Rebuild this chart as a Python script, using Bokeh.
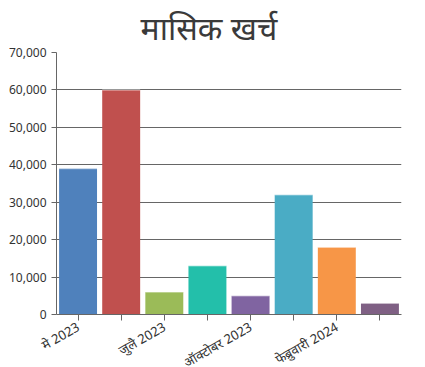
from bokeh.plotting import figure
from bokeh.models import FixedTicker, NumeralTickFormatter, FactorRange, Range1d, CustomJSTickFormatter
from bokeh.embed import file_html
from bokeh.resources import INLINE

title_text = "मासिक खर्च"
months = ["मे 2023", "जून 2023", "जुलै 2023", "सप्टेंबर 2023", "ऑक्टोबर 2023",
          "डिसेंबर 2023", "फेब्रुवारी 2024", "मार्च 2024"]
shown_labels = ["मे 2023", "जुलै 2023", "ऑक्टोबर 2023", "फेब्रुवारी 2024"]
expenses = [39000, 60000, 6000, 13000, 5000, 32000, 18000, 3000]
colors = ["#4F81BC", "#C0504E", "#9BBB58", "#23BFAA", "#8064A1", "#4AACC5", "#F79647", "#7F6084"]
y_ticks = [0, 10000, 20000, 30000, 40000, 50000, 60000, 70000]

p = figure(frame_width=345, frame_height=262, output_backend="svg", toolbar_location=None,
           x_range=FactorRange(*months, range_padding=0), y_range=Range1d(0, 70000),
           min_border_left=56, min_border_right=14, min_border_bottom=52, min_border_top=0)
p.outline_line_color = None
p.background_fill_color = "white"

p.title.text = title_text
p.title.align = "left"
p.title.offset = 84
p.title.standoff = 7
p.title.text_font_size = "32px"
p.title.text_font_style = "normal"
p.title.text_color = "#3A3A3A"
p.title.text_font = "Noto Sans"

p.vbar(x=months, top=expenses, width=0.88, color=colors, line_color=None)
p.segment(x0=[(m, -0.44) for m in months], x1=[(m, 0.44) for m in months],
          y0=expenses, y1=expenses, line_color="white", line_alpha=0.45, line_width=1.5)

p.yaxis.ticker = FixedTicker(ticks=y_ticks)
p.yaxis.formatter = NumeralTickFormatter(format="0,0")
p.yaxis.minor_tick_line_color = None
p.yaxis.major_tick_out = 5
p.yaxis.major_tick_in = 0
p.yaxis.axis_line_color = "#666666"
p.yaxis.major_tick_line_color = "#666666"
p.yaxis.major_label_text_font_size = "12px"
p.yaxis.major_label_text_color = "#333333"
p.yaxis.major_label_text_font = "Noto Sans"

p.xaxis.formatter = CustomJSTickFormatter(args=dict(shown=shown_labels),
                                          code="return shown.includes(tick) ? tick : '';")
p.xaxis.major_label_orientation = 0.52
p.xaxis.major_tick_out = 6
p.xaxis.major_tick_in = 0
p.xaxis.axis_line_color = "#666666"
p.xaxis.major_tick_line_color = "#666666"
p.xaxis.major_label_text_font_size = "13px"
p.xaxis.major_label_text_color = "#333333"
p.xaxis.major_label_text_font = "Noto Sans"

p.xgrid.grid_line_color = None
p.ygrid.ticker = FixedTicker(ticks=y_ticks)
p.ygrid.grid_line_color = "#666666"
p.ygrid.grid_line_width = 1

open("out.html", "w").write(file_html(p, INLINE))
